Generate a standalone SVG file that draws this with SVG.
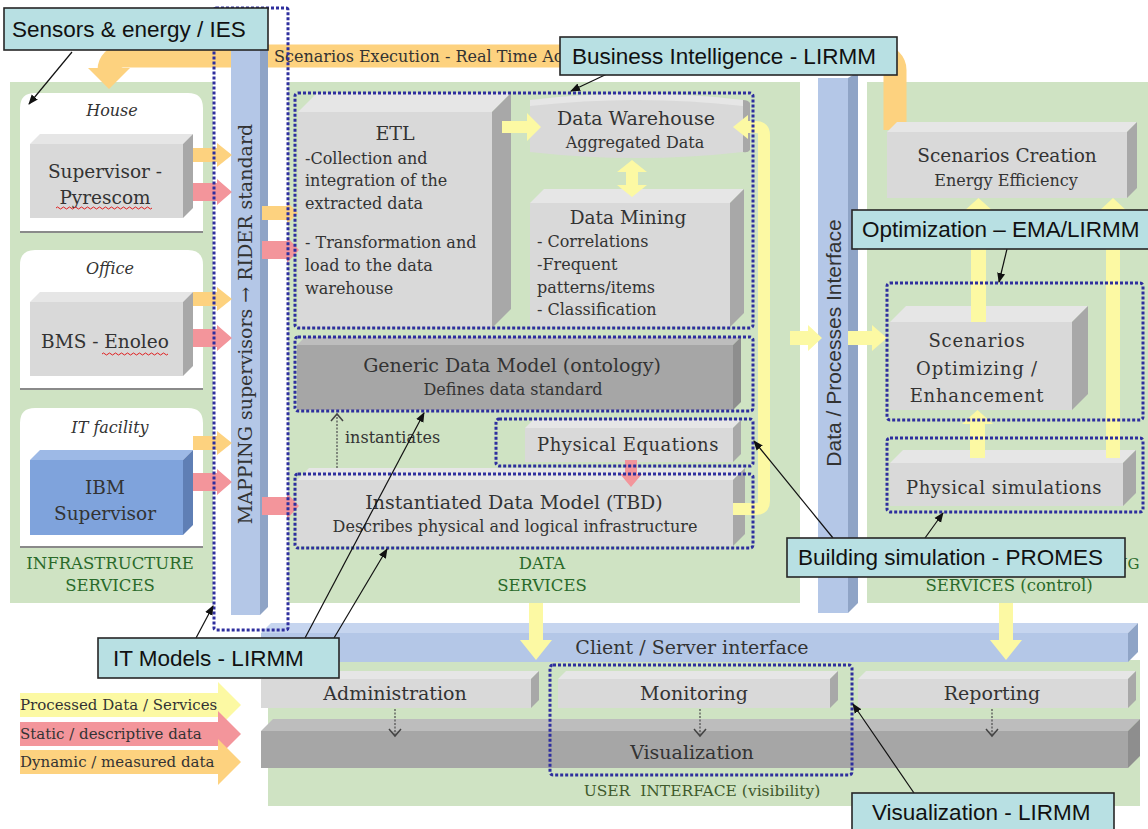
<svg xmlns="http://www.w3.org/2000/svg" width="1148" height="829" viewBox="0 0 1148 829">
<defs>
<style>
.s{font-family:"DejaVu Serif","Liberation Serif",serif;fill:#333;text-anchor:middle}
.sl{font-family:"DejaVu Serif","Liberation Serif",serif;fill:#333}
.gt{font-family:"DejaVu Serif","Liberation Serif",serif;fill:#2a6a2a;text-anchor:middle}
.lb{fill:#b8e0e3;stroke:#262626;stroke-width:1.6}
.lt{font-family:"Liberation Sans",Arial,sans-serif;font-size:22.5px;fill:#111}
.dash{fill:none;stroke:#2e2e9e;stroke-width:3;stroke-dasharray:3 2}
.green{fill:#cfe3c3}
.fr{fill:#d9d9d9}.tp{fill:#e6e6e6}.sd{fill:#a8a8a8}
.dfr{fill:#a6a6a6}.dtp{fill:#bdbdbd}.dsd{fill:#8e8e8e}
.bfr{fill:#b4c7e7}.btp{fill:#c6d5ef}.bsd{fill:#8fa4c6}
.y{fill:#fcf9a3}.o{fill:#fdd27f}.p{fill:#f3959b}
.cl{stroke:#111;stroke-width:1.2;fill:none;marker-end:url(#ah)}
.dt{stroke:#555;stroke-width:1.3;stroke-dasharray:2 1.5;fill:none}
.vh{stroke:#444;stroke-width:1.5;fill:none}
.panel{fill:#fff}
.pl{stroke:#8a8a8a;stroke-width:2}
.sq{stroke:#e02020;stroke-width:1;fill:none}
</style>
<marker id="ah" viewBox="0 0 10 10" refX="9" refY="5" markerWidth="10" markerHeight="10" orient="auto" markerUnits="userSpaceOnUse">
<path d="M0,1 L10,5 L0,9 z" fill="#111"/>
</marker>
</defs>

<g id="backgrounds">
<rect class="green" x="10" y="82" width="203" height="521"/>
<rect class="green" x="288" y="82" width="512" height="521"/>
<rect class="green" x="867" y="82" width="281" height="521"/>
<rect class="green" x="268" y="660" width="872" height="146"/>
</g>

<g id="scenarios-execution">
<path d="M895,130 V70 A14,14 0 0 0 881,56 H123 A14,14 0 0 0 109,70 V72" fill="none" stroke="#fdd27f" stroke-width="23"/>
<polygon class="o" points="88,68 130,68 109,89"/>
<text class="sl" x="274" y="62" font-size="16">Scenarios Execution - Real Time Ac</text>
</g>

<g id="rider-bar">
<rect class="bfr" x="231" y="45" width="29" height="570"/>
<polygon class="bsd" points="260,45 268,40 268,607 260,615"/>
<text class="s" font-size="19" transform="translate(252,324) rotate(-90)">MAPPING supervisors → RIDER standard</text>
</g>

<g id="data-processes-interface">
<rect class="bfr" x="818" y="78" width="30" height="535"/>
<polygon class="bsd" points="848,78 858,72 858,603 848,613"/>
<text font-family="Liberation Sans,Arial,sans-serif" font-size="21" fill="#333" text-anchor="middle" transform="translate(841,343) rotate(-90)">Data / Processes Interface</text>
</g>

<g id="client-server">
<polygon class="btp" points="261,633 271,623 1138,623 1128,633"/>
<rect class="bfr" x="261" y="633" width="867" height="29"/>
<polygon class="bsd" points="1128,633 1138,623 1138,652 1128,662"/>
<text class="s" x="692" y="654" font-size="19">Client / Server interface</text>
</g>

<g id="house">
<path class="panel" d="M20,232 V108 Q20,93 35,93 H188 Q203,93 203,108 V232 Z"/>
<line class="pl" x1="20" y1="232" x2="203" y2="232"/>
<text class="s" x="112" y="116" font-size="16" font-style="italic">House</text>
</g>
<g id="supervisor-pyrescom">
<polygon class="tp" points="30,144 40,134 193,134 183,144"/>
<rect class="fr" x="30" y="144" width="153" height="74"/>
<polygon class="sd" points="183,144 193,134 193,208 183,218"/>
<text class="s" x="105" y="178" font-size="18.5">Supervisor -</text>
<text class="s" x="105" y="204" font-size="18.5">Pyrescom</text>
<path class="sq" d="M56,208 q1.5,-2 3,0 t3,0 t3,0 t3,0 t3,0 t3,0 t3,0 t3,0 t3,0 t3,0 t3,0 t3,0 t3,0 t3,0 t3,0 t3,0 t3,0 t3,0 t3,0 t3,0 t3,0 t3,0 t3,0 t3,0 t3,0 t3,0 t3,0 t3,0 t3,0 t3,0 t3,0 t3,0"/>
</g>

<g id="office">
<path class="panel" d="M20,389 V265 Q20,250 35,250 H188 Q203,250 203,265 V389 Z"/>
<line class="pl" x1="20" y1="389" x2="203" y2="389"/>
<text class="s" x="110" y="274" font-size="16" font-style="italic">Office</text>
</g>
<g id="bms-enoleo">
<polygon class="tp" points="30,302 40,292 193,292 183,302"/>
<rect class="fr" x="30" y="302" width="153" height="74"/>
<polygon class="sd" points="183,302 193,292 193,366 183,376"/>
<text class="s" x="105" y="348" font-size="18.5">BMS - Enoleo</text>
<path class="sq" d="M102,354 q1.5,-2 3,0 t3,0 t3,0 t3,0 t3,0 t3,0 t3,0 t3,0 t3,0 t3,0 t3,0 t3,0 t3,0 t3,0 t3,0 t3,0 t3,0 t3,0 t3,0 t3,0 t3,0 t3,0"/>
</g>

<g id="it-facility">
<path class="panel" d="M20,547 V423 Q20,408 35,408 H188 Q203,408 203,423 V547 Z"/>
<line class="pl" x1="20" y1="547" x2="203" y2="547"/>
<text class="s" x="110" y="433" font-size="16" font-style="italic">IT facility</text>
</g>
<g id="ibm-supervisor">
<polygon fill="#9db9e6" points="30,460 40,450 193,450 183,460"/>
<rect fill="#7fa3dc" x="30" y="460" width="153" height="75"/>
<polygon fill="#5f7fb5" points="183,460 193,450 193,525 183,535"/>
<text class="s" x="105" y="494" font-size="18.5">IBM</text>
<text class="s" x="105" y="520" font-size="18.5">Supervisor</text>
</g>

<g id="infrastructure-title">
<text class="gt" x="110" y="569" font-size="16.5">INFRASTRUCTURE</text>
<text class="gt" x="110" y="591" font-size="16.5">SERVICES</text>
</g>

<g id="etl">
<polygon class="tp" points="298,112 317,93 511,93 492,112"/>
<rect class="fr" x="298" y="112" width="194" height="216"/>
<polygon class="sd" points="492,112 511,93 511,309 492,328"/>
<text class="s" x="395" y="140" font-size="19">ETL</text>
<text class="sl" x="305" y="164" font-size="16">-Collection and</text>
<text class="sl" x="305" y="186" font-size="16">integration of the</text>
<text class="sl" x="305" y="209" font-size="16">extracted data</text>
<text class="sl" x="305" y="248" font-size="16">- Transformation and</text>
<text class="sl" x="305" y="271" font-size="16">load to the data</text>
<text class="sl" x="305" y="294" font-size="16">warehouse</text>
</g>

<g id="data-warehouse">
<path class="fr" d="M530,100 Q637,87 743,100 L743,152 Q637,164 530,152 Z"/>
<path class="tp" d="M530,100 Q637,87 743,100 L743,106 Q637,94 530,106 Z"/>
<path class="sd" d="M743,100 Q748,100 750,103 L750,150 Q748,153 743,152 Z"/>
<text class="s" x="636" y="125" font-size="19">Data Warehouse</text>
<text class="s" x="635" y="148" font-size="16">Aggregated Data</text>
</g>

<g id="data-mining">
<polygon class="tp" points="530,203 544,189 744,189 730,203"/>
<rect class="fr" x="530" y="203" width="200" height="124"/>
<polygon class="sd" points="730,203 744,189 744,313 730,327"/>
<text class="s" x="628" y="224" font-size="18.5">Data Mining</text>
<text class="sl" x="537" y="247" font-size="16">- Correlations</text>
<text class="sl" x="537" y="270" font-size="16">-Frequent</text>
<text class="sl" x="537" y="293" font-size="16">patterns/items</text>
<text class="sl" x="537" y="315" font-size="16">- Classification</text>
</g>

<g id="generic-data-model">
<polygon class="dtp" points="297,345 305,337 741,337 733,345"/>
<rect class="dfr" x="297" y="345" width="436" height="65"/>
<polygon class="dsd" points="733,345 741,337 741,402 733,410"/>
<text class="s" x="512" y="372" font-size="19">Generic Data Model (ontology)</text>
<text class="s" x="513" y="395" font-size="16">Defines data standard</text>
</g>

<g id="physical-equations">
<polygon class="tp" points="525,428 533,420 741,420 733,428"/>
<rect class="fr" x="525" y="428" width="208" height="34"/>
<polygon class="sd" points="733,428 741,420 741,454 733,462"/>
<text class="s" x="628" y="451" font-size="18" letter-spacing="0.5">Physical Equations</text>
</g>

<g id="instantiated-data-model">
<polygon class="tp" points="297,480 309,468 745,468 733,480"/>
<rect class="fr" x="297" y="480" width="436" height="66"/>
<polygon class="sd" points="733,480 745,468 745,534 733,546"/>
<text class="s" x="514" y="509" font-size="19">Instantiated Data Model (TBD)</text>
<text class="s" x="515" y="532" font-size="16">Describes physical and logical infrastructure</text>
</g>

<g id="data-services-title">
<text class="gt" x="542" y="569" font-size="16.5">DATA</text>
<text class="gt" x="542" y="591" font-size="16.5">SERVICES</text>
</g>

<g id="scenarios-creation">
<polygon class="tp" points="887,132 897,122 1137,122 1127,132"/>
<rect class="fr" x="887" y="132" width="240" height="66"/>
<polygon class="sd" points="1127,132 1137,122 1137,188 1127,198"/>
<text class="s" x="1007" y="162" font-size="18.5">Scenarios Creation</text>
<text class="s" x="1006" y="186" font-size="16">Energy Efficiency</text>
</g>

<g id="scenarios-optimizing">
<polygon class="tp" points="890,322 906,306 1088,306 1072,322"/>
<rect class="fr" x="890" y="322" width="182" height="88"/>
<polygon class="sd" points="1072,322 1088,306 1088,394 1072,410"/>
<text class="s" x="977" y="347" font-size="18" letter-spacing="0.8">Scenarios</text>
<text class="s" x="977" y="375" font-size="18" letter-spacing="0.8">Optimizing /</text>
<text class="s" x="977" y="402" font-size="18" letter-spacing="0.8">Enhancement</text>
</g>

<g id="physical-simulations">
<polygon class="tp" points="890,463 903,450 1136,450 1123,463"/>
<rect class="fr" x="890" y="463" width="233" height="43"/>
<polygon class="sd" points="1123,463 1136,450 1136,493 1123,506"/>
<text class="s" x="1004" y="494" font-size="18" letter-spacing="0.5">Physical simulations</text>
</g>

<g id="control-title">
<text class="gt" x="1127" y="569" font-size="15" text-anchor="start">NG</text>
<text class="gt" x="1009" y="591" font-size="16.5">SERVICES (control)</text>
</g>

<g id="administration">
<polygon class="tp" points="261,679 269,671 539,671 531,679"/>
<rect class="fr" x="261" y="679" width="270" height="29"/>
<polygon class="sd" points="531,679 539,671 539,700 531,708"/>
<text class="s" x="395" y="700" font-size="19">Administration</text>
</g>
<g id="monitoring">
<polygon class="tp" points="558,679 566,671 838,671 830,679"/>
<rect class="fr" x="558" y="679" width="272" height="29"/>
<polygon class="sd" points="830,679 838,671 838,700 830,708"/>
<text class="s" x="694" y="700" font-size="19">Monitoring</text>
</g>
<g id="reporting">
<polygon class="tp" points="858,679 866,671 1136,671 1128,679"/>
<rect class="fr" x="858" y="679" width="270" height="29"/>
<polygon class="sd" points="1128,679 1136,671 1136,700 1128,708"/>
<text class="s" x="992" y="700" font-size="19">Reporting</text>
</g>
<g id="visualization">
<polygon class="dtp" points="261,731 273,719 1140,719 1128,731"/>
<rect class="dfr" x="261" y="731" width="867" height="37"/>
<polygon class="dsd" points="1128,731 1140,719 1140,756 1128,768"/>
<text class="s" x="692" y="759" font-size="19">Visualization</text>
</g>
<g id="ui-title">
<text class="s" x="702" y="796" font-size="15.5" style="fill:#3f5a2c">USER&#160; INTERFACE (visibility)</text>
</g>

<g id="legend">
<polygon class="y" points="20,693 218,693 218,682 241,705 218,728 218,717 20,717"/>
<polygon class="p" points="20,722 218,722 218,711 241,734 218,757 218,746 20,746"/>
<polygon class="o" points="20,750 218,750 218,739 241,762 218,785 218,774 20,774"/>
<text class="sl" x="20" y="710" font-size="15">Processed Data / Services</text>
<text class="sl" x="20" y="739" font-size="15">Static / descriptive data</text>
<text class="sl" x="20" y="767" font-size="15">Dynamic / measured data</text>
</g>

<g id="connectors">
<polygon class="o" points="193,148 217,148 217,143 232,155 217,167 217,162 193,162"/>
<polygon class="p" points="193,183 217,183 217,179 232,192 217,205 217,201 193,201"/>
<polygon class="o" points="193,292 217,292 217,287 232,299 217,311 217,306 193,306"/>
<polygon class="p" points="193,329 217,329 217,325 232,338 217,351 217,347 193,347"/>
<polygon class="o" points="193,436 217,436 217,431 232,443 217,455 217,450 193,450"/>
<polygon class="p" points="193,473 217,473 217,469 232,482 217,495 217,491 193,491"/>
<polygon class="o" points="262,206 287,206 287,202 298,213 287,224 287,220 262,220"/>
<polygon class="p" points="262,241 287,241 287,237 299,250 287,263 287,259 262,259"/>
<polygon class="p" points="262,497 287,497 287,493 299,506 287,519 287,515 262,515"/>
<polygon class="y" points="502,121 527,121 527,113 541,127 527,141 527,133 502,133"/>
<polygon class="y" points="632,160 647,172 638,172 638,185 647,185 632,197 617,185 626,185 626,172 617,172"/>
<path d="M733,509 H756 Q764,509 764,501 V135 Q764,127 756,127 H748" fill="none" stroke="#fcf9a3" stroke-width="12"/>
<polygon class="y" points="748,115 748,139 733,127"/>
<polygon class="p" points="625,460 625,474 620,474 631,487 642,474 637,474 637,460"/>
<polygon class="y" points="790,331 808,331 808,325 822,338 808,351 808,345 790,345"/>
<polygon class="y" points="848,331 872,331 872,325 887,338 872,351 872,345 848,345"/>
<polygon class="y" points="971,322 971,212 963,212 978.5,198 994,212 986,212 986,322"/>
<polygon class="y" points="970,458 970,424 962,424 977.5,410 993,424 985,424 985,458"/>
<polygon class="y" points="1106,458 1106,212 1098,212 1113,198 1128,212 1120,212 1120,458"/>
<polygon class="y" points="529,603 529,640 520,640 536,660 552,640 543,640 543,603"/>
<polygon class="y" points="999,603 999,640 990,640 1006,660 1022,640 1013,640 1013,603"/>
<line class="dt" x1="337" y1="468" x2="337" y2="415"/>
<polyline class="vh" points="331,421 337,414 343,421"/>
<text class="sl" x="345" y="443" font-size="16">instantiates</text>
<line class="dt" x1="395" y1="709" x2="395" y2="735"/>
<polyline class="vh" points="389,729 395,736 401,729"/>
<line class="dt" x1="700" y1="709" x2="700" y2="735"/>
<polyline class="vh" points="694,729 700,736 706,729"/>
<line class="dt" x1="992" y1="709" x2="992" y2="735"/>
<polyline class="vh" points="986,729 992,736 998,729"/>
</g>

<g id="groupings">
<rect class="dash" x="214" y="8" width="74" height="622" rx="2"/>
<rect class="dash" x="295" y="93" width="458" height="235" rx="3"/>
<rect class="dash" x="295" y="337" width="458" height="74" rx="3"/>
<rect class="dash" x="496" y="419" width="257" height="47" rx="3"/>
<rect class="dash" x="295" y="474" width="458" height="74" rx="3"/>
<rect class="dash" x="887" y="283" width="256" height="137" rx="3"/>
<rect class="dash" x="887" y="438" width="256" height="74" rx="3"/>
<rect class="dash" x="550" y="665" width="302" height="110" rx="3"/>
</g>

<g id="callout-lines">
<line class="cl" x1="72" y1="52" x2="29" y2="104"/>
<line class="cl" x1="607" y1="74" x2="571" y2="91"/>
<line class="cl" x1="1007" y1="249" x2="999" y2="282"/>
<line class="cl" x1="833" y1="538" x2="754" y2="441"/>
<line class="cl" x1="925" y1="538" x2="943" y2="513"/>
<line class="cl" x1="196" y1="638" x2="213" y2="606"/>
<line class="cl" x1="305" y1="638" x2="424" y2="413"/>
<line class="cl" x1="334" y1="638" x2="387" y2="549"/>
<line class="cl" x1="914" y1="793" x2="853" y2="704"/>
</g>

<g id="label-sensors">
<rect class="lb" x="4" y="8" width="264" height="42"/>
<text class="lt" x="12" y="37">Sensors &amp; energy / IES</text>
</g>
<g id="label-bi">
<rect class="lb" x="560" y="37" width="337" height="38"/>
<text class="lt" x="572" y="64">Business Intelligence - LIRMM</text>
</g>
<g id="label-optimization">
<rect class="lb" x="852" y="210" width="300" height="39"/>
<text class="lt" x="862" y="237">Optimization – EMA/LIRMM</text>
</g>
<g id="label-building">
<rect class="lb" x="787" y="538" width="338" height="39"/>
<text class="lt" x="798" y="565">Building simulation - PROMES</text>
</g>
<g id="label-it-models">
<rect class="lb" x="98" y="638" width="241" height="40"/>
<text class="lt" x="113" y="666">IT Models - LIRMM</text>
</g>
<g id="label-visualization">
<rect class="lb" x="852" y="793" width="262" height="42"/>
<text class="lt" x="872" y="820">Visualization - LIRMM</text>
</g>
</svg>
